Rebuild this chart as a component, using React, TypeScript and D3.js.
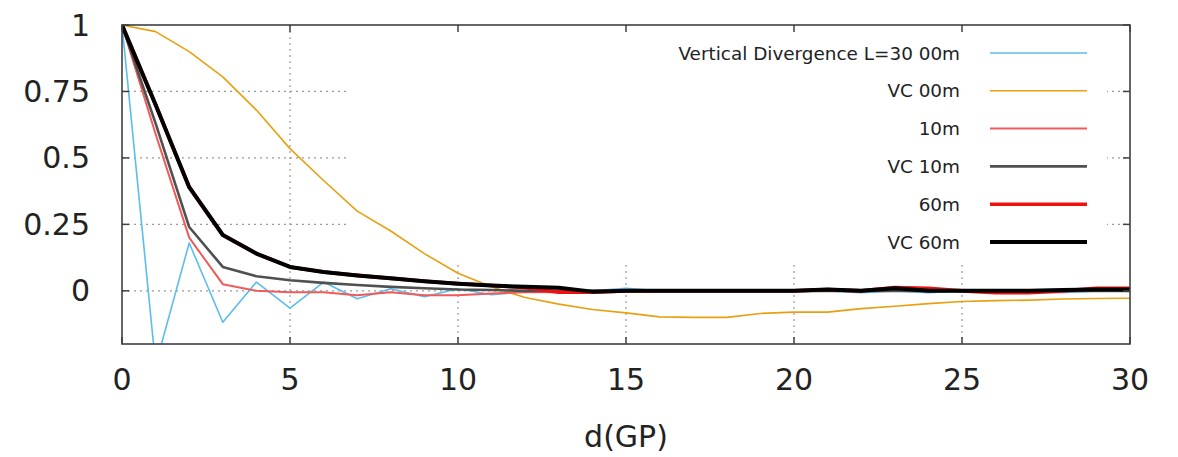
import React from "react";
import * as d3 from "d3";

const xs = d3.range(0, 31);

const vdiv00 = [1, -0.28, 0.18, -0.118, 0.033, -0.065, 0.033, -0.03, 0.008, -0.022, 0.008, -0.015, -0.003, -0.003, 0.0, 0.01, 0, 0, 0, 0, 0, 0, -0.007, 0, -0.007, 0, 0, -0.005, -0.007, 0, 0];
const vc00 = [1.0, 0.975, 0.9, 0.805, 0.68, 0.535, 0.415, 0.3, 0.225, 0.14, 0.066, 0.015, -0.025, -0.05, -0.07, -0.083, -0.098, -0.1, -0.1, -0.085, -0.08, -0.08, -0.067, -0.058, -0.048, -0.04, -0.037, -0.035, -0.031, -0.029, -0.028];
const m10 = [1, 0.59, 0.2, 0.025, 0.0, -0.005, -0.005, -0.017, -0.005, -0.017, -0.017, -0.01, -0.005, -0.005, 0, 0, 0, 0, 0, 0, 0, 0, 0, 0, 0, 0, 0, 0, 0, 0, 0];
const vc10 = [1, 0.63, 0.24, 0.09, 0.055, 0.04, 0.03, 0.022, 0.015, 0.01, 0.005, 0.003, 0.0, 0, 0, 0, 0, 0, 0, 0, 0, 0, 0, 0, 0, 0, 0, 0, 0, 0, 0];
const m60 = [1, 0.7, 0.39, 0.21, 0.14, 0.09, 0.071, 0.058, 0.047, 0.036, 0.027, 0.02, 0.012, -0.005, -0.005, 0, 0, 0, 0, 0, 0, 0.005, 0, 0.012, 0.01, 0, -0.007, -0.007, 0, 0.01, 0.01];
const vc60 = [1, 0.7, 0.39, 0.21, 0.14, 0.09, 0.071, 0.058, 0.047, 0.036, 0.027, 0.02, 0.015, 0.012, -0.003, 0, 0, 0, 0, 0, 0, 0.005, 0, 0.01, 0, 0, 0, 0, 0.003, 0.005, 0.005];

const xTicks = [0, 5, 10, 15, 20, 25, 30];
const yTicks = [0, 0.25, 0.5, 0.75, 1];
const yTickLabels = ["0", "0.25", "0.5", "0.75", "1"];

const seriesNames = ["Vertical Divergence L=30 00m", "VC 00m", "10m", "VC 10m", "60m", "VC 60m"];
const seriesData = [vdiv00, vc00, m10, vc10, m60, vc60];
const seriesColors = ["#5bbdec", "#e8a010", "#f05a5a", "#505050", "#ee1111", "#000000"];
const seriesWidths = [1.6, 1.6, 2, 2.6, 3.6, 4];

export default function App() {
  const W = 1178, H = 457;
  const left = 122, right = 1130, top = 25, bottom = 344;
  const x = d3.scaleLinear().domain([0, 30]).range([left, right]);
  const y = d3.scaleLinear().domain([-0.2, 1]).range([bottom, top]);
  const line = d3.line<number>().x((_, i) => x(xs[i])).y((d) => y(d));
  const font = "DejaVu Sans, sans-serif";
  const legendY0 = 53, legendDy = 37.8;
  return (
    <svg width={W} height={H} style={{ position: "absolute", left: 0, top: 0, background: "#fff" }}>
      <defs>
        <clipPath id="plotclip">
          <rect x={left} y={top} width={right - left} height={bottom - top} />
        </clipPath>
      </defs>
      {/* grid */}
      <g stroke="#9a9a9a" strokeWidth={1.2} strokeDasharray="2,4">
        {xTicks.filter((t) => t > 0 && t < 30).map((t) => (
          <line key={"gx" + t} x1={x(t)} x2={x(t)} y1={top} y2={bottom} />
        ))}
        {yTicks.filter((t) => t < 1).map((t) => (
          <line key={"gy" + t} x1={left} x2={right} y1={y(t)} y2={y(t)} />
        ))}
      </g>
      {/* opaque key background */}
      <rect x={350} y={top + 1} width={757} height={236} fill="#fff" />
      {/* curves */}
      <g clipPath="url(#plotclip)" fill="none" strokeLinejoin="round">
        {seriesData.map((s, i) => (
          <path key={"s" + i} d={line(s) || ""} stroke={seriesColors[i]} strokeWidth={seriesWidths[i]} />
        ))}
      </g>
      {/* border */}
      <rect x={left} y={top} width={right - left} height={bottom - top} fill="none" stroke="#404040" strokeWidth={1.6} />
      {/* ticks */}
      <g stroke="#404040" strokeWidth={1.5}>
        {xTicks.map((t) => (
          <g key={"tx" + t}>
            <line x1={x(t)} x2={x(t)} y1={bottom} y2={bottom - 7} />
            <line x1={x(t)} x2={x(t)} y1={top} y2={top + 7} />
          </g>
        ))}
        {yTicks.map((t) => (
          <g key={"ty" + t}>
            <line x1={left} x2={left + 7} y1={y(t)} y2={y(t)} />
            <line x1={right} x2={right - 7} y1={y(t)} y2={y(t)} />
          </g>
        ))}
      </g>
      {/* tick labels */}
      <g fontFamily={font} fontSize={30} fill="#222">
        {yTicks.map((t, i) => (
          <text key={"ly" + t} x={90} y={y(t)} textAnchor="end" dominantBaseline="central">{yTickLabels[i]}</text>
        ))}
        {xTicks.map((t) => (
          <text key={"lx" + t} x={x(t)} y={379} textAnchor="middle" dominantBaseline="central">{t}</text>
        ))}
        <text x={(left + right) / 2} y={436} textAnchor="middle" dominantBaseline="central">d(GP)</text>
      </g>
      {/* legend */}
      <g fontFamily={font} fontSize={18.4} fill="#222">
        {seriesNames.map((n, i) => (
          <g key={"lg" + i}>
            <text x={960} y={legendY0 + i * legendDy} textAnchor="end" dominantBaseline="central">{n}</text>
            <line x1={990} x2={1087} y1={legendY0 + i * legendDy} y2={legendY0 + i * legendDy} stroke={seriesColors[i]} strokeWidth={seriesWidths[i]} />
          </g>
        ))}
      </g>
    </svg>
  );
}
